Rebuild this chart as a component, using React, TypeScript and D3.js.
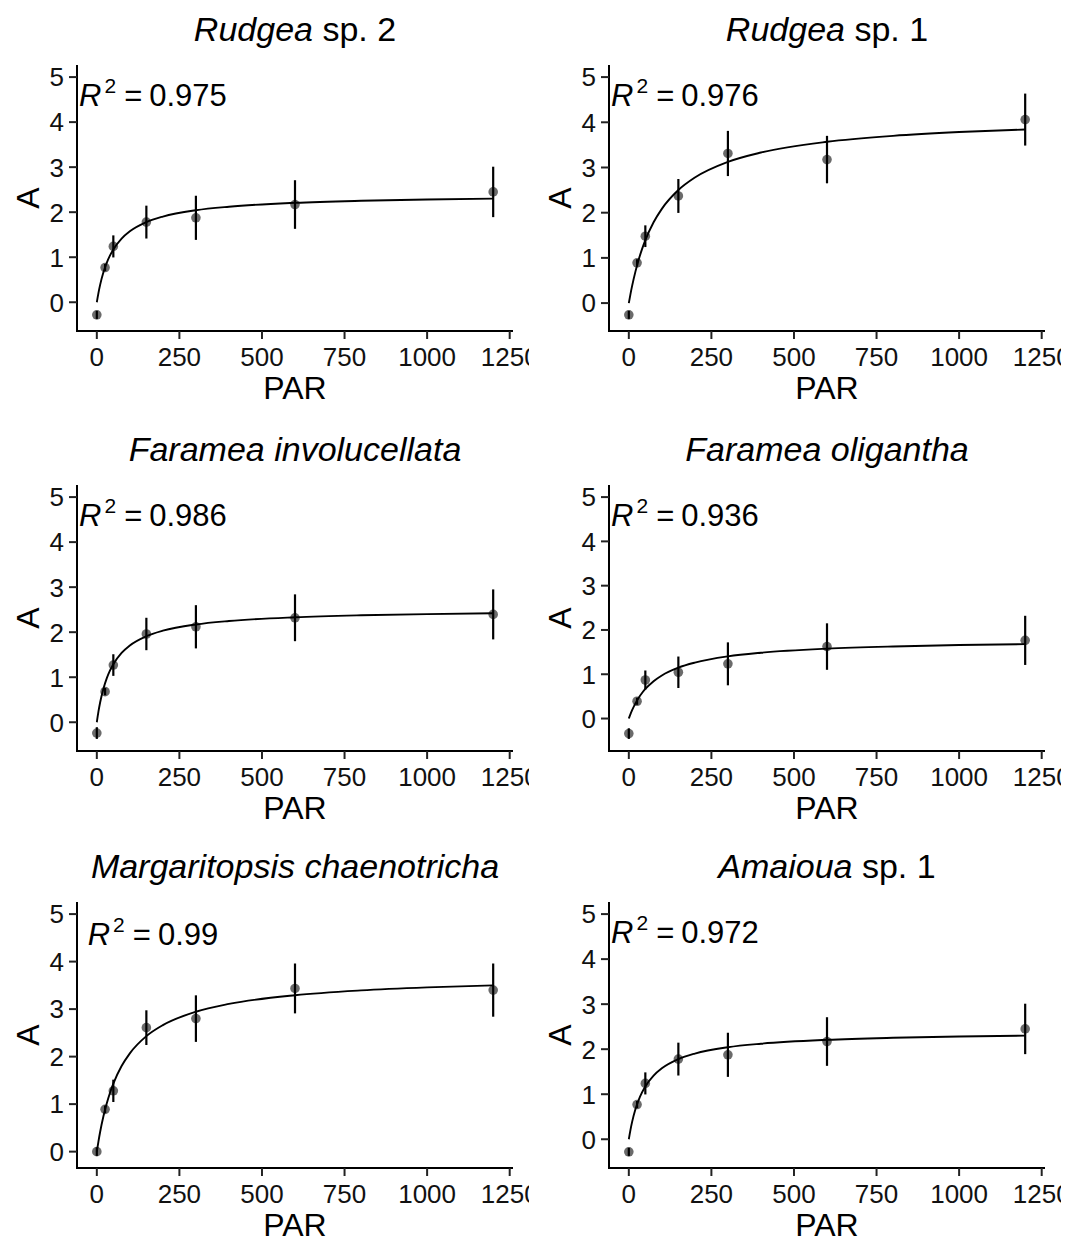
import React from "react";
import * as d3 from "d3";

// ---------- data ----------
const PAR = [0, 25, 50, 150, 300, 600, 1200];
const X_TICKS = [0, 250, 500, 750, 1000, 1250];
const Y_TICKS = [0, 1, 2, 3, 4, 5];
const Y_UPPER = 5;

const TITLE_ITALIC = ["Rudgea", "Rudgea", "Faramea involucellata", "Faramea oligantha", "Margaritopsis chaenotricha", "Amaioua"];
const TITLE_PLAIN = [" sp. 2", " sp. 1", "", "", "", " sp. 1"];
const R2_LABELS = ["0.975", "0.976", "0.986", "0.936", "0.99", "0.972"];

const A_RUDGEA2 = [-0.28, 0.77, 1.24, 1.78, 1.875, 2.17, 2.45];
const SE_RUDGEA2 = [0.09, 0.08, 0.245, 0.365, 0.49, 0.54, 0.56];
const A_RUDGEA1 = [-0.26, 0.89, 1.48, 2.37, 3.31, 3.175, 4.06];
const SE_RUDGEA1 = [0.09, 0.08, 0.24, 0.375, 0.5, 0.525, 0.575];
const A_FINVOL = [-0.24, 0.68, 1.27, 1.96, 2.12, 2.32, 2.395];
const SE_FINVOL = [0.13, 0.08, 0.24, 0.36, 0.48, 0.52, 0.555];
const A_FOLIG = [-0.34, 0.39, 0.87, 1.045, 1.235, 1.625, 1.765];
const SE_FOLIG = [0.12, 0.08, 0.215, 0.355, 0.485, 0.525, 0.555];
const A_MARG = [0.0, 0.89, 1.28, 2.61, 2.8, 3.435, 3.4];
const SE_MARG = [0.09, 0.08, 0.235, 0.365, 0.49, 0.525, 0.56];
const A_AMAIOUA = [-0.28, 0.77, 1.24, 1.78, 1.875, 2.17, 2.45];
const SE_AMAIOUA = [0.09, 0.08, 0.245, 0.365, 0.49, 0.54, 0.56];

// fitted curves at these PAR values
const CURVE_PAR = [0, 5, 10, 20, 30, 40, 50, 75, 100, 150, 200, 300, 400, 600, 800, 1000, 1200];
const FIT_RUDGEA2 = [0, 0.209, 0.385, 0.664, 0.875, 1.04, 1.173, 1.414, 1.576, 1.78, 1.903, 2.044, 2.122, 2.208, 2.253, 2.281, 2.3];
const FIT_RUDGEA1 = [0, 0.199, 0.38, 0.696, 0.964, 1.193, 1.391, 1.788, 2.085, 2.501, 2.778, 3.124, 3.331, 3.568, 3.7, 3.784, 3.841];
const FIT_FINVOL = [0, 0.24, 0.438, 0.745, 0.974, 1.15, 1.29, 1.54, 1.706, 1.911, 2.033, 2.172, 2.249, 2.331, 2.375, 2.402, 2.42];
const FIT_FOLIG = [0, 0.1, 0.189, 0.343, 0.47, 0.576, 0.667, 0.844, 0.973, 1.149, 1.263, 1.403, 1.485, 1.577, 1.627, 1.659, 1.681];
const FIT_MARG = [0, 0.218, 0.413, 0.743, 1.014, 1.24, 1.431, 1.801, 2.069, 2.431, 2.663, 2.945, 3.109, 3.293, 3.394, 3.457, 3.5];
const FIT_AMAIOUA = [0, 0.209, 0.385, 0.664, 0.875, 1.04, 1.173, 1.414, 1.576, 1.78, 1.903, 2.044, 2.122, 2.208, 2.253, 2.281, 2.3];

const MEANS = [A_RUDGEA2, A_RUDGEA1, A_FINVOL, A_FOLIG, A_MARG, A_AMAIOUA];
const SES = [SE_RUDGEA2, SE_RUDGEA1, SE_FINVOL, SE_FOLIG, SE_MARG, SE_AMAIOUA];
const FITS = [FIT_RUDGEA2, FIT_RUDGEA1, FIT_FINVOL, FIT_FOLIG, FIT_MARG, FIT_AMAIOUA];

// ---------- layout ----------
const W = 1069;
const H = 1243;
const COL_X = [0, 532];
const ROW_Y = [0, 420, 837];
const PLOT_L = 77;
const PLOT_R = 513;
const PLOT_T = 65;
const PLOT_B = 331;
const FONT = "'Liberation Sans', Arial, Helvetica, sans-serif";

function Panel({ i }: { i: number }) {
  const col = i % 2;
  const row = Math.floor(i / 2);
  const ox = COL_X[col];
  const oy = ROW_Y[row];
  const means = MEANS[i];
  const ses = SES[i];
  const fit = FITS[i];

  const xMin = d3.min(PAR) as number;
  const xMax = d3.max(PAR) as number;
  const xSpan = xMax - xMin;
  const xs = d3
    .scaleLinear()
    .domain([xMin - 0.05 * xSpan, xMax + 0.05 * xSpan])
    .range([PLOT_L, PLOT_R]);

  const lo = d3.min(means.map((m, k) => m - ses[k])) as number;
  const hi = Y_UPPER;
  const ySpan = hi - lo;
  const ys = d3
    .scaleLinear()
    .domain([lo - 0.05 * ySpan, hi + 0.05 * ySpan])
    .range([PLOT_B, PLOT_T]);

  const line = d3
    .line<number>()
    .x((_, k) => xs(CURVE_PAR[k]))
    .y((d) => ys(d))
    .curve(d3.curveMonotoneX);

  const clipId = `clip-${i}`;
  const titleX = (PLOT_L + PLOT_R) / 2;

  return (
    <g transform={`translate(${ox},${oy})`}>
      <defs>
        <clipPath id={clipId}>
          <rect x={0} y={0} width={529} height={414} />
        </clipPath>
      </defs>
      <g clipPath={`url(#${clipId})`}>
        {/* title */}
        <text x={titleX} y={41} textAnchor="middle" fontSize={34} fontFamily={FONT} fill="#000">
          <tspan fontStyle="italic">{TITLE_ITALIC[i]}</tspan>
          {TITLE_PLAIN[i] ? <tspan>{"\u00a0" + TITLE_PLAIN[i].trim()}</tspan> : null}
        </text>

        {/* axes */}
        <line x1={PLOT_L} x2={PLOT_L} y1={PLOT_T} y2={PLOT_B + 1} stroke="#000" strokeWidth={2} />
        <line x1={PLOT_L - 1} x2={PLOT_R} y1={PLOT_B} y2={PLOT_B} stroke="#000" strokeWidth={2} />

        {Y_TICKS.map((t) => (
          <g key={`y${t}`}>
            <line x1={PLOT_L - 8} x2={PLOT_L} y1={ys(t)} y2={ys(t)} stroke="#222" strokeWidth={2} />
            <text x={PLOT_L - 13} y={ys(t)} dy="0.36em" textAnchor="end" fontSize={26} fontFamily={FONT} fill="#111">
              {t}
            </text>
          </g>
        ))}
        {X_TICKS.map((t) => (
          <g key={`x${t}`}>
            <line x1={xs(t)} x2={xs(t)} y1={PLOT_B} y2={PLOT_B + 8} stroke="#222" strokeWidth={2} />
            <text x={xs(t)} y={366} textAnchor="middle" fontSize={26} fontFamily={FONT} fill="#111">
              {t}
            </text>
          </g>
        ))}

        {/* axis titles */}
        <text x={titleX} y={399} textAnchor="middle" fontSize={32} fontFamily={FONT} fill="#000">
          PAR
        </text>
        <text
          transform={`translate(39,${(PLOT_T + PLOT_B) / 2}) rotate(-90)`}
          textAnchor="middle"
          fontSize={32}
          fontFamily={FONT}
          fill="#000"
        >
          A
        </text>

        {/* points */}
        {PAR.map((p, k) => (
          <circle key={`p${k}`} cx={xs(p)} cy={ys(means[k])} r={4.8} fill="#3a3a3a" fillOpacity={0.75} />
        ))}
        {/* error bars */}
        {PAR.map((p, k) => (
          <line
            key={`e${k}`}
            x1={xs(p)}
            x2={xs(p)}
            y1={ys(means[k] - ses[k])}
            y2={ys(means[k] + ses[k])}
            stroke="#000"
            strokeWidth={2.2}
          />
        ))}
        {/* fitted curve */}
        <path d={line(fit) || ""} fill="none" stroke="#000" strokeWidth={1.9} />

        {/* R2 label */}
        <text x={xs(170)} y={ys(4.35)} textAnchor="middle" fontSize={31} fontFamily={FONT} fill="#000">
          <tspan fontStyle="italic">R</tspan>
          <tspan dx={3} dy={-13} fontSize={21}>2</tspan>
          <tspan dx={8} dy={13}>=</tspan>
          <tspan dx={7}>{R2_LABELS[i]}</tspan>
        </text>
      </g>
    </g>
  );
}

export default function App() {
  return (
    <div style={{ position: "absolute", left: 0, top: 0, width: W, height: H, background: "#fff" }}>
      <svg width={W} height={H} viewBox={`0 0 ${W} ${H}`} style={{ display: "block" }}>
        <rect x={0} y={0} width={W} height={H} fill="#fff" />
        {[0, 1, 2, 3, 4, 5].map((i) => (
          <Panel key={i} i={i} />
        ))}
      </svg>
    </div>
  );
}
